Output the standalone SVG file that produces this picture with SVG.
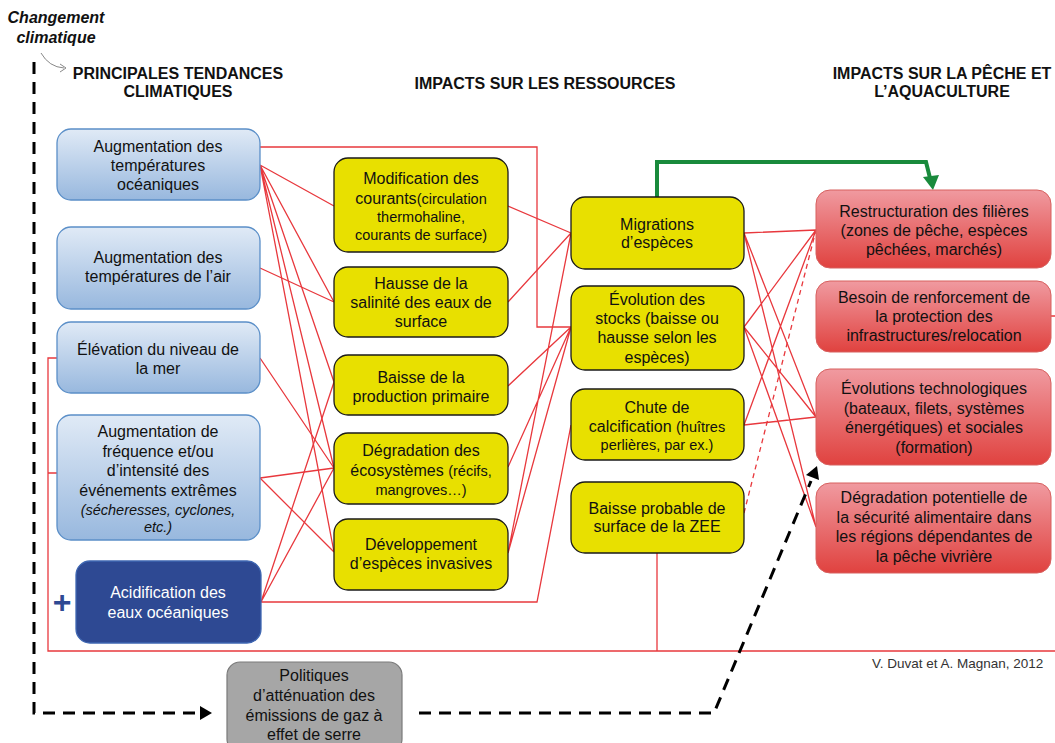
<svg xmlns="http://www.w3.org/2000/svg" width="1055" height="743" viewBox="0 0 1055 743">
<defs>
<linearGradient id="gBlue" x1="0" y1="0" x2="0" y2="1"><stop offset="0" stop-color="#e0eaf6"/><stop offset="1" stop-color="#98b8de"/></linearGradient>
<linearGradient id="gRed" x1="0" y1="0" x2="0" y2="1"><stop offset="0" stop-color="#f09aa0"/><stop offset="1" stop-color="#e0423f"/></linearGradient>
<style>
.t{font-family:"Liberation Sans",Arial,sans-serif;font-size:16px;fill:#111;text-anchor:middle}
.s{font-size:14.5px}
.h{font-family:"Liberation Sans",Arial,sans-serif;font-size:16px;font-weight:bold;fill:#111;text-anchor:middle}
.blue{fill:url(#gBlue);stroke:#5b8fc8;stroke-width:1.3}
.dark{fill:#2e4993;stroke:#3f67b2;stroke-width:1.3}
.yel{fill:#e8e000;stroke:#1a1a1a;stroke-width:1.3}
.red{fill:url(#gRed);stroke:#d7605f;stroke-width:1}
.gray{fill:#a6a6a6;stroke:#7a7a7a;stroke-width:1.2}
.ln{fill:none;stroke:#e8383d;stroke-width:1.3}
.dl{fill:none;stroke:#000;stroke-width:3;stroke-dasharray:12 8}
</style>
</defs>
<rect width="1055" height="743" fill="#fff"/>

<!-- headers -->
<text class="h" x="56" y="23" font-style="italic">Changement</text>
<text class="h" x="56" y="43" font-style="italic">climatique</text>
<text class="h" x="178" y="79">PRINCIPALES TENDANCES</text>
<text class="h" x="178" y="97">CLIMATIQUES</text>
<text class="h" x="545" y="89">IMPACTS SUR LES RESSOURCES</text>
<text class="h" x="942" y="79">IMPACTS SUR LA PÊCHE ET</text>
<text class="h" x="942" y="97">L’AQUACULTURE</text>
<path d="M41,53 Q49,67 64,68" fill="none" stroke="#888" stroke-width="1"/>
<path d="M60,64 L66,68 L60,72" fill="none" stroke="#888" stroke-width="1"/>

<!-- connectors -->
<g id="connectors">
<path class="ln" d="M260,147 H537 V327 H571"/>
<path class="ln" d="M260,165 L334,206 M260,165 L334,302 M260,165 L334,382 M260,165 L334,468 M260,165 L334,552"/>
<path class="ln" d="M260,268 L334,302 M260,358 L334,468 M260,478 L334,468 M260,478 L334,552"/>
<path class="ln" d="M261,602 L334,382 M261,602 L334,468 M261,602 H537 L571,425"/>
<path class="ln" d="M57,358 H48 V651 H1056 M57,473 H48 M657,553 V651 M1051,316 H1056 V651"/>
<path class="ln" d="M508,206 L571,233 M508,302 L571,233 M508,386 L571,327 M508,467 L571,327 M508,553 L571,233 M508,553 L571,327"/>
<path class="ln" d="M744,233 L816,230 M744,233 L816,417 M744,233 L816,527 M744,327 L816,230 M744,327 L816,417 M744,327 L816,527 M744,425 L816,230 M744,425 L816,417"/>
<path class="ln" d="M744,513 L816,230" stroke-dasharray="5 4"/>
<path d="M657,197 V162 H926 L930,178" fill="none" stroke="#198a3c" stroke-width="4"/>
<polygon points="923,177 939,175 933,190" fill="#198a3c"/>
<path class="dl" d="M34,62 V713 H200"/>
<polygon points="200,706 212,713 200,720" fill="#000"/>
<path class="dl" d="M419,713 H714 L811,481"/>
<polygon points="817,466 819,480 806,475" fill="#000"/>
</g>

<!-- column 1 -->
<g id="b1"><rect class="blue" x="57" y="129" width="203" height="71" rx="14"/>
<text class="t" x="158" y="152">Augmentation des</text><text class="t" x="158" y="171">températures</text><text class="t" x="158" y="190">océaniques</text></g>
<g id="b2"><rect class="blue" x="57" y="227" width="203" height="82" rx="14"/>
<text class="t" x="158" y="263">Augmentation des</text><text class="t" x="158" y="282">températures de l’air</text></g>
<g id="b3"><rect class="blue" x="57" y="322" width="203" height="71" rx="14"/>
<text class="t" x="158" y="355">Élévation du niveau de</text><text class="t" x="158" y="374">la mer</text></g>
<g id="b4"><rect class="blue" x="57" y="415" width="203" height="125" rx="14"/>
<text class="t" x="158" y="437">Augmentation de</text><text class="t" x="158" y="457">fréquence et/ou</text><text class="t" x="158" y="476">d’intensité des</text><text class="t" x="158" y="496">événements extrêmes</text>
<text class="t s" x="158" y="515" font-style="italic">(sécheresses, cyclones,</text><text class="t s" x="158" y="532" font-style="italic">etc.)</text></g>
<g id="b5"><rect class="dark" x="76" y="561" width="185" height="82" rx="14"/>
<text class="t" x="168" y="598" style="fill:#fff">Acidification des</text><text class="t" x="168" y="618" style="fill:#fff">eaux océaniques</text>
<text x="62" y="613" font-family="Liberation Sans, Arial, sans-serif" font-size="32" font-weight="bold" fill="#2e4993" text-anchor="middle">+</text></g>

<!-- column 2 -->
<g id="y1"><rect class="yel" x="334" y="158" width="174" height="94" rx="14"/>
<text class="t" x="421" y="184">Modification des</text><text class="t" x="421" y="204">courants<tspan class="s">(circulation</tspan></text><text class="t s" x="421" y="222">thermohaline,</text><text class="t s" x="421" y="240">courants de surface)</text></g>
<g id="y2"><rect class="yel" x="334" y="267" width="174" height="70" rx="14"/>
<text class="t" x="421" y="289">Hausse de la</text><text class="t" x="421" y="308">salinité des eaux de</text><text class="t" x="421" y="327">surface</text></g>
<g id="y3"><rect class="yel" x="334" y="355" width="174" height="60" rx="14"/>
<text class="t" x="421" y="383">Baisse de la</text><text class="t" x="421" y="402">production primaire</text></g>
<g id="y4"><rect class="yel" x="334" y="433" width="174" height="71" rx="14"/>
<text class="t" x="421" y="456">Dégradation des</text><text class="t" x="421" y="476">écosystèmes <tspan class="s">(récifs,</tspan></text><text class="t s" x="421" y="495">mangroves…)</text></g>
<g id="y5"><rect class="yel" x="334" y="519" width="174" height="71" rx="14"/>
<text class="t" x="421" y="550">Développement</text><text class="t" x="421" y="569">d’espèces invasives</text></g>

<!-- column 3 -->
<g id="m1"><rect class="yel" x="571" y="197" width="173" height="72" rx="14"/>
<text class="t" x="657" y="230">Migrations</text><text class="t" x="657" y="248">d’espèces</text></g>
<g id="m2"><rect class="yel" x="571" y="286" width="173" height="84" rx="14"/>
<text class="t" x="657" y="305">Évolution des</text><text class="t" x="657" y="324">stocks (baisse ou</text><text class="t" x="657" y="343">hausse selon les</text><text class="t" x="657" y="363">espèces)</text></g>
<g id="m3"><rect class="yel" x="571" y="389" width="173" height="71" rx="14"/>
<text class="t" x="657" y="413">Chute de</text><text class="t" x="657" y="432">calcification <tspan class="s">(huîtres</tspan></text><text class="t s" x="657" y="450">perlières, par ex.)</text></g>
<g id="m4"><rect class="yel" x="571" y="482" width="173" height="71" rx="14"/>
<text class="t" x="657" y="514">Baisse probable de</text><text class="t" x="657" y="532">surface de la ZEE</text></g>

<!-- column 4 -->
<g id="r1"><rect class="red" x="816" y="190" width="235" height="78" rx="14"/>
<text class="t" x="934" y="217">Restructuration des filières</text><text class="t" x="934" y="236">(zones de pêche, espèces</text><text class="t" x="934" y="255">pêchées, marchés)</text></g>
<g id="r2"><rect class="red" x="816" y="281" width="235" height="71" rx="14"/>
<text class="t" x="934" y="303">Besoin de renforcement de</text><text class="t" x="934" y="322">la protection des</text><text class="t" x="934" y="341">infrastructures/relocation</text></g>
<g id="r3"><rect class="red" x="816" y="369" width="235" height="96" rx="14"/>
<text class="t" x="934" y="394">Évolutions technologiques</text><text class="t" x="934" y="414">(bateaux, filets, systèmes</text><text class="t" x="934" y="433">énergétiques) et sociales</text><text class="t" x="934" y="453">(formation)</text></g>
<g id="r4"><rect class="red" x="816" y="483" width="235" height="90" rx="14"/>
<text class="t" x="934" y="503">Dégradation potentielle de</text><text class="t" x="934" y="523">la sécurité alimentaire dans</text><text class="t" x="934" y="542">les régions dépendantes de</text><text class="t" x="934" y="562">la pêche vivrière</text></g>

<!-- policy -->
<g id="policy"><rect class="gray" x="227" y="662" width="175" height="90" rx="13"/>
<text class="t" x="314" y="681">Politiques</text><text class="t" x="314" y="701">d’atténuation des</text><text class="t" x="314" y="721">émissions de gaz à</text><text class="t" x="314" y="740">effet de serre</text></g>

<text x="872" y="668" font-family="Liberation Sans, Arial, sans-serif" font-size="13.5" fill="#333">V. Duvat et A. Magnan, 2012</text>
</svg>
